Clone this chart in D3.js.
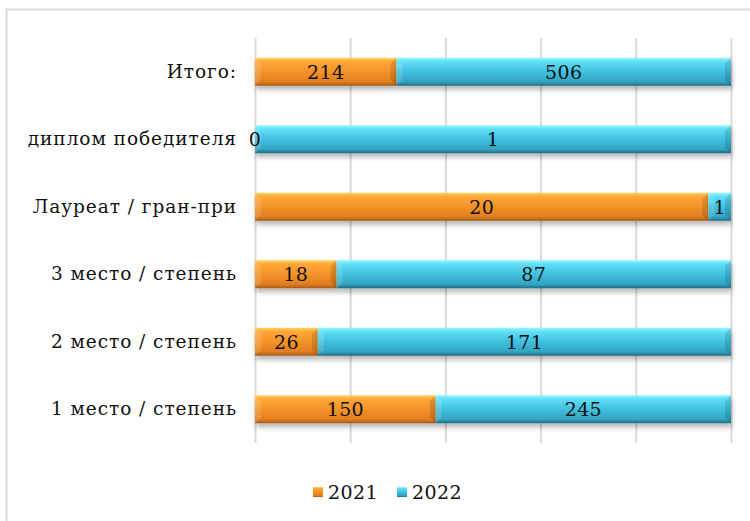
<!DOCTYPE html>
<html>
<head>
<meta charset="utf-8">
<script src="https://cdn.jsdelivr.net/npm/d3@7"></script>
<style>
  body { margin: 0; background: #fff; }
  svg text { font-family: 'DejaVu Serif', serif; fill: #111; }
</style>
</head>
<body>
<svg id="chart" width="750" height="521"></svg>
<script>
// categories, top to bottom
var categories = ['Итого:', 'диплом победителя', 'Лауреат / гран-при', '3 место / степень', '2 место / степень', '1 место / степень']
var years = ['2021', '2022']
var values2021 = [214, 0, 20, 18, 26, 150]
var values2022 = [506, 1, 1, 87, 171, 245]
var ticks = [0, 0.2, 0.4, 0.6, 0.8, 1]

var svg = d3.select('#chart')
  , defs = svg.append('defs')
  , plotLeft = 255, plotRight = 731, plotTop = 38, plotBottom = 443

// frame of the chart area (runs off the right and bottom edges)
svg.append('rect')
  .attr('x', 6.5).attr('y', 9.5)
  .attr('width', 800).attr('height', 600)
  .attr('fill', 'none').attr('stroke', '#d9d9d9').attr('stroke-width', 2)

var gradients = {
  '2021': [['0%', '#ffd35e'], ['14%', '#ffa838'], ['50%', '#f4932a'], ['86%', '#e07e20'], ['100%', '#a65a18']],
  '2022': [['0%', '#95f7ff'], ['14%', '#62def6'], ['50%', '#3fc1df'], ['86%', '#33a4c1'], ['100%', '#1f6c82']]
}
Object.keys(gradients).forEach(function(k) {
  var g = defs.append('linearGradient').attr('id', 'grad' + k)
    .attr('x1', 0).attr('y1', 0).attr('x2', 0).attr('y2', 1)
  gradients[k].forEach(function(s) {
    g.append('stop').attr('offset', s[0]).attr('stop-color', s[1])
  })
})
var shadow = defs.append('filter').attr('id', 'shadow')
  .attr('x', '-5%').attr('y', '-30%').attr('width', '110%').attr('height', '180%')
shadow.append('feDropShadow').attr('dx', 1).attr('dy', 4).attr('stdDeviation', 2.5)
  .attr('flood-color', '#000').attr('flood-opacity', 0.28)

var x = d3.scaleLinear().domain([0, 1]).range([plotLeft, plotRight])
var y = d3.scaleBand().domain(categories).range([plotTop, plotBottom])
  .paddingInner(0.585).paddingOuter(0.2925)

// gridlines
svg.append('g')
  .attr('transform', 'translate(0,' + plotBottom + ')')
  .call(d3.axisBottom(x).tickValues(ticks).tickSize(0).tickFormat(''))
  .call(function(g) {
    g.select('.domain').remove()
    g.selectAll('.tick line').attr('stroke', '#d9d9d9').attr('stroke-width', 2)
      .attr('y2', -(plotBottom - plotTop))
  })

// category labels
svg.append('g')
  .attr('transform', 'translate(' + (plotLeft - 18) + ',0)')
  .call(d3.axisLeft(y).tickSize(0).tickPadding(0))
  .call(function(g) {
    g.select('.domain').remove()
    g.attr('font-size', null).attr('font-family', null)
    g.selectAll('text').style('font-family', "'DejaVu Serif', serif")
      .style('font-size', '18.5px').style('letter-spacing', '0.95px')
      .attr('fill', '#111')
  })

var rows = categories.map(function(c, i) {
  var total = values2021[i] + values2022[i]
  return [
    { cat: c, year: '2021', value: values2021[i], x0: 0, x1: values2021[i] / total },
    { cat: c, year: '2022', value: values2022[i], x0: values2021[i] / total, x1: 1 }
  ]
})
var segments = [].concat.apply([], rows)

var bars = svg.append('g')
var seg = bars.selectAll('g.seg').data(segments).enter().append('g').attr('class', 'seg')

seg.append('rect')
  .attr('x', function(d) { return x(d.x0) })
  .attr('y', function(d) { return y(d.cat) })
  .attr('width', function(d) { return x(d.x1) - x(d.x0) })
  .attr('height', y.bandwidth())
  .attr('fill', function(d) { return 'url(#grad' + d.year + ')' })
  .attr('filter', 'url(#shadow)')

// bevelled ends
var bevel = function(d, side) {
  var x0 = x(d.x0), x1 = x(d.x1), y0 = y(d.cat), h = y.bandwidth()
    , b = Math.min(6, (x1 - x0) / 2)
  if (side === 'l') return [[x0, y0], [x0 + b, y0 + b], [x0 + b, y0 + h - b], [x0, y0 + h]].join(' ')
  return [[x1, y0], [x1 - b, y0 + b], [x1 - b, y0 + h - b], [x1, y0 + h]].join(' ')
}
seg.append('polygon').attr('points', function(d) { return bevel(d, 'l') })
  .attr('fill', '#fff').attr('opacity', 0.14)
seg.append('polygon').attr('points', function(d) { return bevel(d, 'r') })
  .attr('fill', '#000').attr('opacity', 0.12)

// value labels, drawn above every bar
svg.append('g').selectAll('text').data(segments).enter().append('text')
  .attr('x', function(d) { return (x(d.x0) + x(d.x1)) / 2 })
  .attr('y', function(d) { return y(d.cat) + y.bandwidth() / 2 })
  .attr('dy', '0.36em')
  .attr('text-anchor', 'middle')
  .attr('font-size', 19)
  .style('letter-spacing', '0.4px')
  .text(function(d) { return d.value })

// legend
var legend = svg.append('g').attr('transform', 'translate(313,487)')
var item = legend.selectAll('g').data(years).enter().append('g')
  .attr('transform', function(d, i) { return 'translate(' + (i * 84) + ',0)' })
item.append('rect').attr('width', 10).attr('height', 10)
  .attr('fill', function(d) { return 'url(#grad' + d + ')' })
item.append('text').attr('x', 15).attr('y', 5).attr('dy', '0.36em')
  .attr('font-size', 19).style('letter-spacing', '0.4px').text(function(d) { return d })
</script>
</body>
</html>
